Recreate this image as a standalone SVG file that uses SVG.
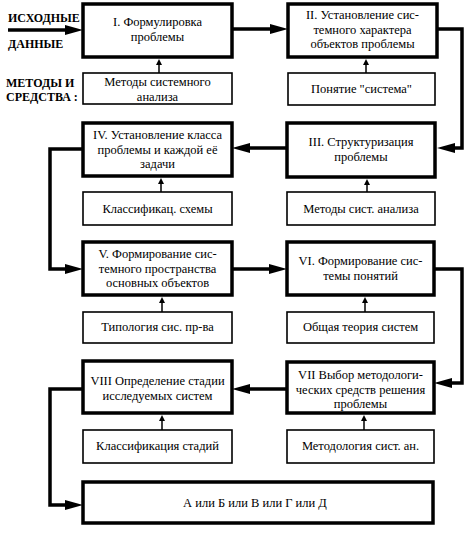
<svg xmlns="http://www.w3.org/2000/svg" width="474" height="535" viewBox="0 0 474 535">
<style>
.main{fill:#fff;stroke:#000;stroke-width:3.5}
.sub{fill:#fff;stroke:#000;stroke-width:1.6}
.t{font-family:"Liberation Serif","Times New Roman",serif;font-size:12.5px;fill:#000;text-anchor:middle}
.lab{font-family:"Liberation Serif","Times New Roman",serif;font-size:12px;font-weight:bold;fill:#000}
.c{fill:none;stroke:#000;stroke-width:3.5}
.s{fill:none;stroke:#000;stroke-width:1.5}
</style>
<defs>
<marker id="big" markerUnits="userSpaceOnUse" markerWidth="18" markerHeight="10" refX="0" refY="5" orient="auto" overflow="visible"><path d="M0,0 L18,5 L0,10 z" fill="#000"/></marker>
<marker id="small" markerUnits="userSpaceOnUse" markerWidth="6" markerHeight="6" refX="0" refY="3" orient="auto" overflow="visible"><path d="M0,0 L6,3 L0,6 z" fill="#000"/></marker>
</defs>
<rect width="474" height="535" fill="#fff"/>
<g id="labels">
<text class="lab" x="8" y="22">ИСХОДНЫЕ</text>
<text class="lab" x="8" y="48">ДАННЫЕ</text>
<text class="lab" x="6" y="87">МЕТОДЫ И</text>
<text class="lab" x="6" y="101">СРЕДСТВА :</text>
</g>
<g id="n1"><rect class="main" x="83" y="4" width="149" height="53"/><text class="t" x="157.5" y="26">I. Формулировка</text><text class="t" x="157.5" y="40.5">проблемы</text></g>
<g id="m1"><rect class="sub" x="83" y="73" width="149" height="31"/><text class="t" x="157.5" y="86">Методы системного</text><text class="t" x="157.5" y="100.5">анализа</text></g>
<g id="n2"><rect class="main" x="288" y="4" width="149" height="53"/><text class="t" x="362.5" y="19">II. Установление сис-</text><text class="t" x="362.5" y="33.5">темного характера</text><text class="t" x="362.5" y="48">объектов проблемы</text></g>
<g id="m2"><rect class="sub" x="288" y="73" width="147" height="32"/><text class="t" x="361.5" y="93">Понятие "система"</text></g>
<g id="n3"><rect class="main" x="287" y="123" width="148" height="54"/><text class="t" x="361" y="146">III. Структуризация</text><text class="t" x="361" y="160.5">проблемы</text></g>
<g id="m3"><rect class="sub" x="287" y="192" width="148" height="33"/><text class="t" x="361" y="213">Методы сист. анализа</text></g>
<g id="n4"><rect class="main" x="83" y="123" width="149" height="53"/><text class="t" x="157.5" y="139">IV. Установление класса</text><text class="t" x="157.5" y="153.5">проблемы и каждой её</text><text class="t" x="157.5" y="168">задачи</text></g>
<g id="m4"><rect class="sub" x="83" y="192" width="149" height="33"/><text class="t" x="157.5" y="213">Классификац. схемы</text></g>
<g id="n5"><rect class="main" x="83" y="242" width="149" height="53"/><text class="t" x="157.5" y="258">V. Формирование сис-</text><text class="t" x="157.5" y="272.5">темного пространства</text><text class="t" x="157.5" y="287">основных объектов</text></g>
<g id="m5"><rect class="sub" x="83" y="312" width="149" height="31"/><text class="t" x="157.5" y="331">Типология сис. пр-ва</text></g>
<g id="n6"><rect class="main" x="287" y="242" width="147" height="53"/><text class="t" x="360.5" y="265">VI. Формирование сис-</text><text class="t" x="360.5" y="279.5">темы понятий</text></g>
<g id="m6"><rect class="sub" x="287" y="312" width="147" height="31"/><text class="t" x="360.5" y="331">Общая теория систем</text></g>
<g id="n7"><rect class="main" x="287" y="362" width="147" height="51"/><text class="t" x="360.5" y="379">VII Выбор методологи-</text><text class="t" x="360.5" y="393.5">ческих средств решения</text><text class="t" x="360.5" y="408">проблемы</text></g>
<g id="m7"><rect class="sub" x="287" y="430" width="147" height="33"/><text class="t" x="360.5" y="450">Методология сист. ан.</text></g>
<g id="n8"><rect class="main" x="83" y="361" width="149" height="52"/><text class="t" x="157.5" y="385">VIII Определение стадии</text><text class="t" x="157.5" y="399.5">исследуемых систем</text></g>
<g id="m8"><rect class="sub" x="83" y="430" width="149" height="33"/><text class="t" x="157.5" y="450">Классификация стадий</text></g>
<g id="n9"><rect class="main" x="83" y="482" width="350" height="41"/><text class="t" x="255" y="507">А или Б или В или Г или Д</text></g>
<g id="connectors">
<path class="c" d="M8,30 H65" marker-end="url(#big)"/>
<path class="c" d="M232,29 H270" marker-end="url(#big)"/>
<path class="c" d="M437,29 H462 V148 H455" marker-end="url(#big)"/>
<path class="c" d="M287,148 H250" marker-end="url(#big)"/>
<path class="c" d="M83,149 H50 V269 H65" marker-end="url(#big)"/>
<path class="c" d="M232,269 H269" marker-end="url(#big)"/>
<path class="c" d="M434,269 H462 V383 H452" marker-end="url(#big)"/>
<path class="c" d="M287,389 H250" marker-end="url(#big)"/>
<path class="c" d="M83,389 H50 V505 H65" marker-end="url(#big)"/>
<path class="s" d="M159,73 V65" marker-end="url(#small)"/>
<path class="s" d="M366,73 V65" marker-end="url(#small)"/>
<path class="s" d="M161,192 V184" marker-end="url(#small)"/>
<path class="s" d="M367,192 V185" marker-end="url(#small)"/>
<path class="s" d="M162,312 V303" marker-end="url(#small)"/>
<path class="s" d="M365,312 V303" marker-end="url(#small)"/>
<path class="s" d="M162,430 V421" marker-end="url(#small)"/>
<path class="s" d="M364,430 V421" marker-end="url(#small)"/>
</g>
</svg>
